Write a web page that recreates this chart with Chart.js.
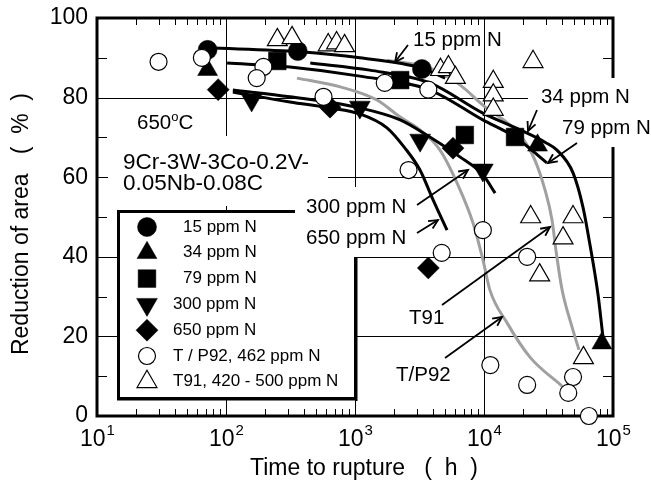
<!DOCTYPE html>
<html>
<head>
<meta charset="utf-8">
<script src="https://cdn.jsdelivr.net/npm/chart.js"></script>
<style>
  html, body { margin: 0; padding: 0; background: #fff; }
  #wrap { position: relative; width: 651px; height: 488px; }
</style>
</head>
<body>
<div id="wrap"><canvas id="chart" width="651" height="488"></canvas></div>
<script>
// measured points (time to rupture in h, reduction of area in %)
const n15Time = [72, 360, 3300];
const n15RA = [92, 91.7, 87.2];
const n34Time = [72, 26000, 82000];
const n34RA = [87, 68, 18.3];
const n79Time = [250, 2240, 7100, 17400];
const n79RA = [89.2, 84.4, 70.6, 70.1];
const n300Time = [158, 1090, 3200, 9800];
const n300RA = [79.4, 77.6, 69.3, 61.8];
const n650Time = [87, 640, 5750, 3700];
const n650RA = [82, 77.6, 67.3, 37.2];
const p92Time = [30, 65, 195, 173, 570, 1700, 3700, 2600, 9800, 4700, 21600, 11200, 21600, 49000, 45000, 65000];
const p92RA = [89, 90, 87.7, 84.9, 80.2, 83.7, 82, 61.8, 46.7, 41, 40, 12.8, 7.8, 9.8, 5.8, 0];
const t91Time = [250, 325, 620, 720, 830, 4600, 5300, 6000, 24000, 11800, 11800, 11800, 23000, 49000, 41000, 27000, 59000];
const t91RA = [94.5, 95, 93.2, 93.7, 93, 87, 87.7, 85, 89, 84, 80.6, 77, 50, 50, 44.7, 35.4, 14.6];

// hand drawn trend curves
const fit15Time = [72, 375, 1090, 3300, 5000];
const fit15RA = [92.5, 91.5, 90, 87.4, 84.9];
const fit34Time = [450, 1300, 3800, 9800, 19000, 29700, 36800, 49000, 58500, 66300, 76600, 83600];
const fit34RA = [88.7, 86.9, 83.7, 76.1, 71.9, 68.8, 66.8, 61.1, 52.5, 43.0, 30.4, 19.8];
const fit79Time = [102, 313, 1090, 3800, 9800, 17400, 30700];
const fit79RA = [88.7, 87.7, 85.4, 81.9, 74.4, 70.1, 63.6];
const fit300Time = [113, 313, 1090, 2240, 3800, 6500, 9800, 12200];
const fit300RA = [81.9, 80.2, 77.4, 74.4, 70.1, 65.1, 60.6, 56.0];
const fit650Time = [113, 313, 640, 1090, 1770, 2440, 3190, 4030, 5170];
const fit650RA = [81.4, 78.9, 77.4, 75.9, 72.4, 67.3, 61.8, 54.3, 46.7];
const fitP92Time = [355, 770, 1480, 2240, 3190, 4560, 6290, 8220, 9820, 11100, 15100, 22700, 40300];
const fitP92RA = [84.9, 82.7, 79.4, 75.1, 71.9, 66.8, 58.0, 48.5, 39.2, 31.7, 23.4, 14.8, 7.5];
const fitT91Time = [1770, 3800, 6500, 9800, 19000, 24800, 29700, 33700, 36100, 40300, 48100, 54500];
const fitT91RA = [89.4, 87.4, 83.2, 78.1, 70.6, 64.3, 56.8, 49.2, 41.7, 31.7, 22.4, 16.6];

// axes
const yTicks = [0, 20, 40, 60, 80, 100];
const yMinor = [10, 30, 50, 70, 90];
const xDecades = [10, 100, 1000, 10000, 100000];
const xExps = ['1', '2', '3', '4', '5'];

const legendLabels = ['15 ppm N', '34 ppm N', '79 ppm N', '300 ppm N', '650 ppm N', 'T / P92, 462 ppm N', 'T91, 420 - 500 ppm N'];

const FONT = '"Liberation Sans", Arial, sans-serif';
const GRAY = '#a0a0a0';

const pts = (xs, ys) => xs.map((x, i) => ({ x, y: ys[i] }));

function markers(label, xs, ys, style, r, open, rot, order) {
  return {
    label, data: pts(xs, ys), pointStyle: style, pointRadius: r, pointHoverRadius: r,
    rotation: rot || 0,
    backgroundColor: open ? '#fff' : '#000', borderColor: '#000',
    borderWidth: open ? 1.2 : 0.5, showLine: false, clip: false, order
  };
}
function curve(xs, ys, color, order) {
  return {
    data: pts(xs, ys), showLine: true, borderColor: color, borderWidth: 3,
    pointRadius: 0, pointHoverRadius: 0, cubicInterpolationMode: 'monotone',
    fill: false, clip: false, order
  };
}

const sets = [
  curve(fitP92Time, fitP92RA, GRAY, 12),
  curve(fitT91Time, fitT91RA, GRAY, 12),
  curve(fit15Time, fit15RA, '#000', 10),
  curve(fit34Time, fit34RA, '#000', 10),
  curve(fit79Time, fit79RA, '#000', 10),
  curve(fit300Time, fit300RA, '#000', 10),
  curve(fit650Time, fit650RA, '#000', 10),
  markers('15 ppm N', n15Time, n15RA, 'circle', 9.5, false, 0, 5),
  markers('34 ppm N', n34Time, n34RA, 'triangle', 11.5, false, 0, 5),
  markers('79 ppm N', n79Time, n79RA, 'rect', 12.5, false, 0, 5),
  markers('300 ppm N', n300Time, n300RA, 'triangle', 12, false, 180, 5),
  markers('650 ppm N', n650Time, n650RA, 'rectRot', 11, false, 0, 5),
  markers('T / P92, 462 ppm N', p92Time, p92RA, 'circle', 8.5, true, 0, 2),
  markers('T91, 420 - 500 ppm N', t91Time, t91RA, 'triangle', 11.5, true, 0, 1)
];

function drawMark(ctx, style, r, open, rot, x, y) {
  ctx.save();
  ctx.translate(x, y);
  ctx.rotate((rot || 0) * Math.PI / 180);
  ctx.beginPath();
  if (style === 'circle') {
    ctx.arc(0, 0, r, 0, Math.PI * 2);
  } else if (style === 'triangle') {
    for (let k = 0; k < 3; k++) {
      const a = k * 2 * Math.PI / 3;
      ctx.lineTo(Math.sin(a) * r, -Math.cos(a) * r);
    }
    ctx.closePath();
  } else if (style === 'rect') {
    const s = r * Math.SQRT1_2;
    ctx.rect(-s, -s, 2 * s, 2 * s);
  } else {
    ctx.moveTo(0, -r); ctx.lineTo(r, 0); ctx.lineTo(0, r); ctx.lineTo(-r, 0); ctx.closePath();
  }
  ctx.fillStyle = open ? '#fff' : '#000';
  ctx.fill();
  ctx.lineWidth = open ? 1.2 : 0.5;
  ctx.strokeStyle = '#000';
  ctx.stroke();
  ctx.restore();
}

function arrow(ctx, x1, y1, x2, y2) {
  ctx.beginPath(); ctx.moveTo(x1, y1); ctx.lineTo(x2, y2); ctx.stroke();
  const a = Math.atan2(y2 - y1, x2 - x1), L = 10, w = 0.45;
  ctx.beginPath();
  ctx.moveTo(x2 - L * Math.cos(a - w), y2 - L * Math.sin(a - w));
  ctx.lineTo(x2, y2);
  ctx.lineTo(x2 - L * Math.cos(a + w), y2 - L * Math.sin(a + w));
  ctx.stroke();
}

const paper = {
  id: 'paper',
  beforeDatasetsDraw(chart) {
    const { ctx, chartArea: a, scales: { x, y } } = chart;
    const L = a.left, R = a.right, T = a.top, B = a.bottom;
    ctx.save();
    ctx.strokeStyle = '#000';
    ctx.lineWidth = 1;
    // grid lines
    ctx.beginPath();
    xDecades.slice(1, -1).forEach(v => {
      const px = Math.round(x.getPixelForValue(v)) + 0.5;
      ctx.moveTo(px, T); ctx.lineTo(px, B);
    });
    yTicks.slice(1, -1).forEach(v => {
      const py = Math.round(y.getPixelForValue(v)) + 0.5;
      ctx.moveTo(L, py); ctx.lineTo(R, py);
    });
    // minor ticks
    yMinor.forEach(v => {
      const py = Math.round(y.getPixelForValue(v)) + 0.5;
      ctx.moveTo(L, py); ctx.lineTo(L + 10, py);
      ctx.moveTo(R, py); ctx.lineTo(R - 10, py);
    });
    xDecades.slice(0, -1).forEach(d => {
      for (let m = 2; m <= 9; m++) {
        const px = Math.round(x.getPixelForValue(d * m)) + 0.5;
        ctx.moveTo(px, B); ctx.lineTo(px, B - 7);
        ctx.moveTo(px, T); ctx.lineTo(px, T + 7);
      }
    });
    ctx.stroke();
    // frame
    ctx.lineWidth = 3;
    ctx.strokeRect(L, T, R - L, B - T);

    // white label boxes
    ctx.fillStyle = '#fff';
    ctx.fillRect(108, 136, 220, 70);
    ctx.fillRect(528, 78, 123, 35);
    ctx.fillRect(555, 113, 96, 34);

    // legend box
    ctx.fillRect(117, 210, 240, 190);
    ctx.lineWidth = 3;
    ctx.strokeRect(118.5, 211.5, 237, 187);
    ctx.fillStyle = '#000';
    ctx.fillRect(355, 211, 2.5, 190);
    ctx.fillRect(117, 398, 240, 2.5);
    ctx.fillStyle = '#fff';
    ctx.fillRect(295, 187, 110, 70);

    ctx.fillStyle = '#000';
    ctx.textBaseline = 'middle';
    ctx.textAlign = 'left';
    ctx.font = '17px ' + FONT;
    sets.filter(s => s.label).forEach((s, i) => {
      const ly = 227 + i * 25.8;
      drawMark(ctx, s.pointStyle, s.pointRadius, s.backgroundColor === '#fff', s.rotation, 147, ly);
      ctx.fillStyle = '#000';
      ctx.fillText(legendLabels[i], i < 3 ? 183 : 173, ly);
    });

    // annotations
    ctx.font = '20.5px ' + FONT;
    [['15 ppm N', 413, 40], ['34 ppm N', 541, 97], ['79 ppm N', 562, 128],
     ['300 ppm N', 306, 207], ['650 ppm N', 306, 238], ['T91', 409, 318], ['T/P92', 396, 375]]
      .forEach(([t, tx, ty]) => ctx.fillText(t, tx, ty));
    ctx.fillText('650', 137, 123);
    const w650 = ctx.measureText('650').width;
    ctx.font = '13px ' + FONT;
    ctx.fillText('o', 137 + w650, 117);
    const wo = ctx.measureText('o').width;
    ctx.font = '20.5px ' + FONT;
    ctx.fillText('C', 137 + w650 + wo, 123);
    ctx.font = '22.5px ' + FONT;
    ctx.fillText('9Cr-3W-3Co-0.2V-', 123, 163);
    ctx.fillText('0.05Nb-0.08C', 123, 184);

    // tick labels
    ctx.font = '23px ' + FONT;
    ctx.textAlign = 'right';
    yTicks.forEach(v => ctx.fillText(String(v), 88, y.getPixelForValue(v)));
    ctx.textAlign = 'left';
    xDecades.forEach((v, i) => {
      const px = x.getPixelForValue(v);
      ctx.font = '23px ' + FONT;
      const w10 = ctx.measureText('10').width;
      ctx.font = '15px ' + FONT;
      const we = ctx.measureText(xExps[i]).width;
      const x0 = px - (w10 + we) / 2;
      ctx.font = '23px ' + FONT;
      ctx.fillText('10', x0, 440);
      ctx.font = '15px ' + FONT;
      ctx.fillText(xExps[i], x0 + w10 + 1, 431);
    });

    // axis titles
    ctx.font = '23px ' + FONT;
    ctx.textAlign = 'center';
    ctx.fillText('Time to rupture   (  h  )', 364, 469);
    ctx.translate(22, 224);
    ctx.rotate(-Math.PI / 2);
    ctx.fillText('Reduction of area   (  %  )', 0, 0);
    ctx.restore();
  },
  afterDatasetsDraw(chart) {
    const ctx = chart.ctx;
    ctx.save();
    ctx.strokeStyle = '#000';
    ctx.lineWidth = 1.8;
    [[408, 45, 395, 62], [537, 110, 528, 131], [577, 143, 548, 163],
     [417, 205, 468, 170], [417, 233, 438, 220], [442, 305, 550, 227], [445, 358, 502, 317]]
      .forEach(p => arrow(ctx, ...p));
    ctx.restore();
  }
};

new Chart(document.getElementById('chart'), {
  type: 'scatter',
  data: { datasets: sets },
  options: {
    responsive: false,
    animation: false,
    layout: { padding: { left: 97, top: 18, right: 38, bottom: 72 } },
    plugins: { legend: { display: false }, tooltip: { enabled: false } },
    scales: {
      x: { type: 'logarithmic', min: 10, max: 100000, display: false },
      y: { min: 0, max: 100, display: false }
    }
  },
  plugins: [paper]
});
</script>
</body>
</html>
